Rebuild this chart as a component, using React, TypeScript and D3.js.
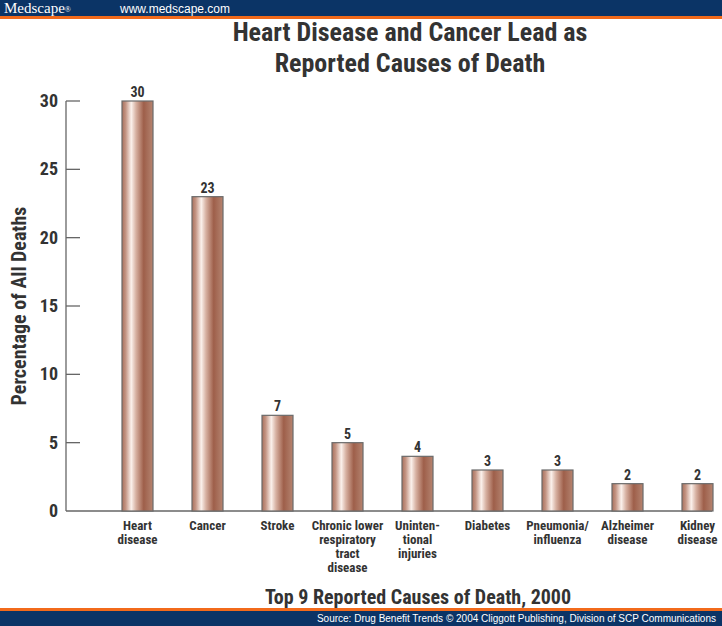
import { useMemo } from 'react';
import * as d3 from 'd3';

const categories = [
  ['Heart', 'disease'],
  ['Cancer'],
  ['Stroke'],
  ['Chronic lower', 'respiratory', 'tract', 'disease'],
  ['Uninten-', 'tional', 'injuries'],
  ['Diabetes'],
  ['Pneumonia/', 'influenza'],
  ['Alzheimer', 'disease'],
  ['Kidney', 'disease'],
];
const values = [30, 23, 7, 5, 4, 3, 3, 2, 2];
const yTicks = [0, 5, 10, 15, 20, 25, 30];

const W = 722;
const H = 626;
const NARROW = "'Liberation Sans Narrow', 'Arial Narrow', 'Roboto Condensed', sans-serif";
const NAVY = '#0b3466';
const ORANGE = '#f26a1b';
const INK = '#333333';

export default function App() {
  const keys = categories.map((c) => c.join(' '));

  const x = useMemo(
    () => d3.scaleBand<string>().domain(keys).range([102.5, 732.5]).paddingInner(0.557).paddingOuter(0.2785),
    [],
  );
  const y = useMemo(() => d3.scaleLinear().domain([0, 30]).range([511, 101]), []);

  const axisX = 66;
  const bw = x.bandwidth();

  return (
    <svg width={W} height={H} style={{ position: 'absolute', left: 0, top: 0 }}>
      <defs>
        <linearGradient id="barGrad" x1="0" x2="1" y1="0" y2="0">
          <stop offset="0%" stopColor="#a8705c" />
          <stop offset="12%" stopColor="#c49584" />
          <stop offset="30%" stopColor="#fbf1ec" />
          <stop offset="45%" stopColor="#d7b1a2" />
          <stop offset="70%" stopColor="#9e5f4a" />
          <stop offset="88%" stopColor="#ab7561" />
          <stop offset="100%" stopColor="#b8846f" />
        </linearGradient>
      </defs>
      <rect width={W} height={H} fill="#fff" />

      {/* header band */}
      <rect x={0} y={0} width={W} height={17} fill={NAVY} />
      <rect x={0} y={16} width={W} height={3} fill={ORANGE} />
      <text x={4} y={13} fill="#fff" fontFamily="'Liberation Serif', serif" fontSize={15}>
        Medscape<tspan fontSize={8} dy={-1}>®</tspan>
      </text>
      <text x={120} y={13} fill="#fff" fontFamily="'Liberation Sans', Arial, sans-serif" fontSize={12}>
        www.medscape.com
      </text>

      {/* title */}
      <g fontFamily={NARROW} fontWeight="bold" fontSize={26} fill={INK} textAnchor="middle">
        <text x={410} y={41}>Heart Disease and Cancer Lead as</text>
        <text x={410} y={72}>Reported Causes of Death</text>
      </g>

      {/* axes */}
      <line x1={axisX} x2={axisX} y1={y(30)} y2={y(0)} stroke="#666" strokeWidth={1.3} />
      <line x1={axisX} x2={712} y1={y(0)} y2={y(0)} stroke="#666" strokeWidth={1.3} />
      {yTicks.map((t) => (
        <g key={t}>
          {t > 0 && <line x1={axisX} x2={80} y1={y(t)} y2={y(t)} stroke="#666" strokeWidth={1.3} />}
          <text
            x={58}
            y={y(t) + 6}
            textAnchor="end"
            fontFamily={NARROW}
            fontWeight="bold"
            fontSize={18}
            fill={INK}
          >
            {t}
          </text>
        </g>
      ))}
      <text
        transform={`translate(21,${306}) rotate(-90)`}
        textAnchor="middle"
        dominantBaseline="middle"
        fontFamily={NARROW}
        fontWeight="bold"
        fontSize={20}
        fill={INK}
      >
        Percentage of All Deaths
      </text>

      {/* bars */}
      {values.map((v, i) => {
        const bx = x(keys[i])!;
        return (
          <g key={keys[i]}>
            <rect
              x={bx}
              y={y(v)}
              width={bw}
              height={y(0) - y(v)}
              fill="url(#barGrad)"
              stroke="#6b6b6b"
              strokeWidth={1.2}
            />
            <text
              x={bx + bw / 2}
              y={y(v) - 4}
              textAnchor="middle"
              fontFamily={NARROW}
              fontWeight="bold"
              fontSize={14}
              fill={INK}
            >
              {v}
            </text>
          </g>
        );
      })}

      {/* category labels */}
      {categories.map((lines, i) =>
        lines.map((l, j) => (
          <text
            key={`${keys[i]}-${j}`}
            x={x(keys[i])! + bw / 2}
            y={530 + j * 14}
            textAnchor="middle"
            fontFamily={NARROW}
            fontWeight="bold"
            fontSize={13}
            fill={INK}
          >
            {l}
          </text>
        )),
      )}

      {/* x title */}
      <text x={418} y={604} textAnchor="middle" fontFamily={NARROW} fontWeight="bold" fontSize={20} fill={INK}>
        Top 9 Reported Causes of Death, 2000
      </text>

      {/* footer band */}
      <rect x={0} y={608} width={W} height={3} fill={ORANGE} />
      <rect x={0} y={611} width={W} height={H - 611} fill={NAVY} />
      <text x={716} y={622} textAnchor="end" fill="#fff" fontFamily="'Liberation Sans', Arial, sans-serif" fontSize={10}>
        Source: Drug Benefit Trends © 2004 Cliggott Publishing, Division of SCP Communications
      </text>
    </svg>
  );
}
